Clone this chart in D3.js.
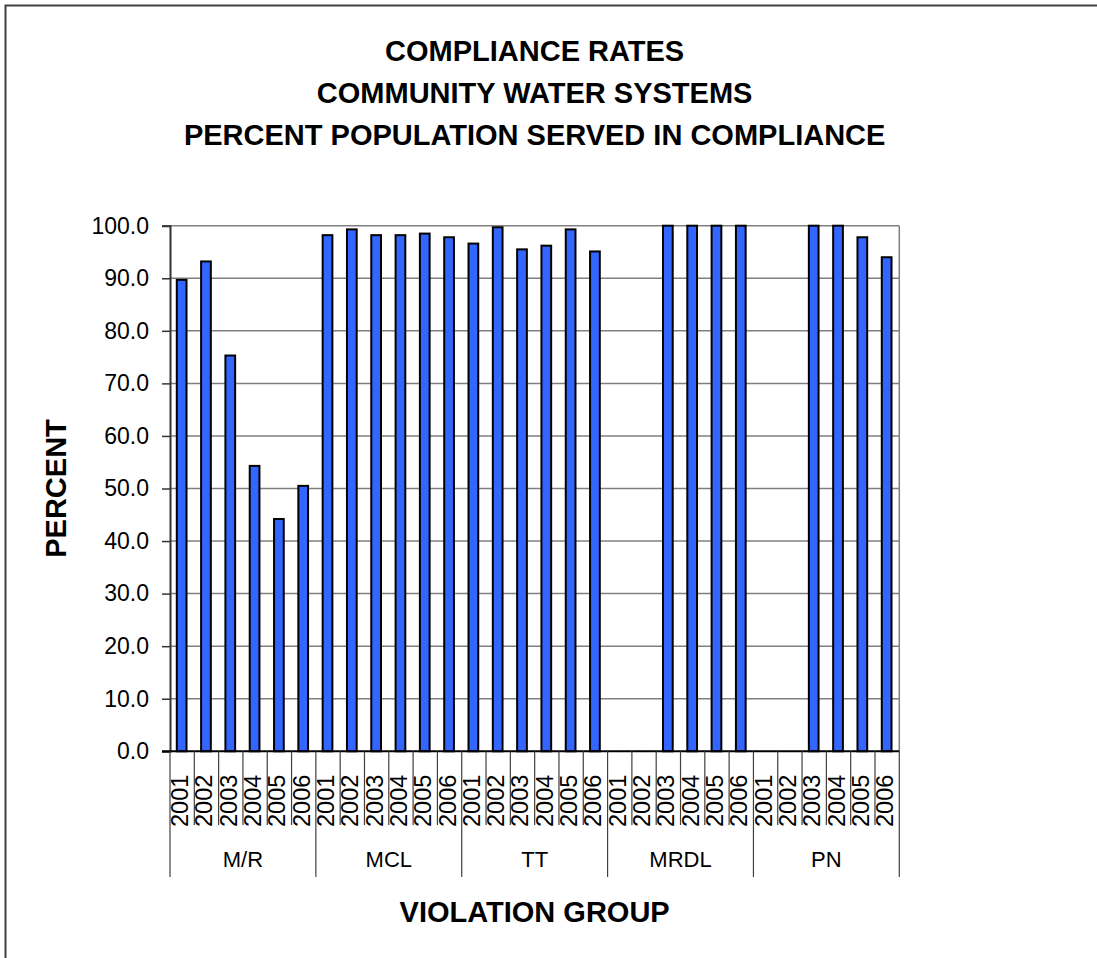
<!DOCTYPE html>
<html>
<head>
<meta charset="utf-8">
<script src="https://cdn.jsdelivr.net/npm/d3@7"></script>
<style>
  html, body { margin: 0; padding: 0; background: #fff; }
  svg { display: block; }
  text { font-family: "Liberation Sans", Arial, sans-serif; fill: #000; }
</style>
</head>
<body>
<svg id="chart" width="1097" height="958"></svg>
<script>
// ---- data ----
const titleLines = ["COMPLIANCE RATES", "COMMUNITY WATER SYSTEMS", "PERCENT POPULATION SERVED IN COMPLIANCE"];
const groups = ["M/R", "MCL", "TT", "MRDL", "PN"];
const years = ["2001", "2002", "2003", "2004", "2005", "2006"];
const mrValues   = [89.7, 93.2, 75.3, 54.3, 44.2, 50.5];
const mclValues  = [98.2, 99.3, 98.2, 98.2, 98.5, 97.8];
const ttValues   = [96.6, 99.7, 95.5, 96.2, 99.3, 95.1];
const mrdlValues = [null, null, 100.0, 100.0, 100.0, 100.0];
const pnValues   = [null, null, 100.0, 100.0, 97.8, 94.0];
const yTicks = [0, 10, 20, 30, 40, 50, 60, 70, 80, 90, 100];
const yTitle = "PERCENT";
const xTitle = "VIOLATION GROUP";

const seriesByGroup = [mrValues, mclValues, ttValues, mrdlValues, pnValues];
const rows = [];
groups.forEach((g, gi) => years.forEach((yr, yi) => rows.push({ key: g + "|" + yr, group: g, year: yr, value: seriesByGroup[gi][yi] })));

// ---- layout ----
const svg = d3.select("#chart");
const plot = { left: 170, right: 899.3, top: 225.7, bottom: 751.3 };

svg.append("rect").attr("x", 5.5).attr("y", 5.5).attr("width", 1300).attr("height", 1300)
  .attr("fill", "#fff").attr("stroke", "#404040").attr("stroke-width", 2);

const x = d3.scaleBand().domain(rows.map(d => d.key)).range([plot.left, plot.right]).padding(0);
const y = d3.scaleLinear().domain([0, 100]).range([plot.bottom, plot.top]);

// gridlines
svg.append("g").selectAll("line").data(yTicks.filter(t => t > 0)).join("line")
  .attr("x1", plot.left).attr("x2", plot.right)
  .attr("y1", d => y(d)).attr("y2", d => y(d))
  .attr("stroke", "#808080").attr("stroke-width", 1.5);
// right border of plot
svg.append("line").attr("x1", plot.right).attr("x2", plot.right).attr("y1", plot.top).attr("y2", plot.bottom)
  .attr("stroke", "#808080").attr("stroke-width", 1.5);

// bars
const bw = x.bandwidth() * 0.4;
svg.append("g").selectAll("rect").data(rows.filter(d => d.value != null)).join("rect")
  .attr("x", d => x(d.key) + (x.bandwidth() - bw) / 2 - 0.5)
  .attr("y", d => y(d.value))
  .attr("width", bw)
  .attr("height", d => y(0) - y(d.value))
  .attr("fill", "#3366FF").attr("stroke", "#000").attr("stroke-width", 2);

// y axis
const yAxis = svg.append("g").attr("transform", `translate(${plot.left},0)`)
  .call(d3.axisLeft(y).tickValues(yTicks).tickFormat(d3.format(".1f")).tickSize(8).tickPadding(13));
yAxis.select(".domain").attr("stroke", "#333").attr("stroke-width", 2);
yAxis.selectAll(".tick line").attr("stroke", "#333").attr("stroke-width", 1.5);
yAxis.selectAll(".tick text").attr("font-size", 23).attr("font-family", "Liberation Sans, Arial, sans-serif").attr("fill", "#000");

// x axis base line
svg.append("line").attr("x1", plot.left - 8).attr("x2", plot.right).attr("y1", plot.bottom).attr("y2", plot.bottom)
  .attr("stroke", "#000").attr("stroke-width", 2);

// x axis: year separators and labels
const sepYearBottom = 825, sepGroupBottom = 877;
const sepKeys = rows.map((d, i) => ({ xPos: x(d.key), isGroup: i % years.length === 0 }));
sepKeys.push({ xPos: plot.right, isGroup: true });
svg.append("g").selectAll("line").data(sepKeys).join("line")
  .attr("x1", d => d.xPos).attr("x2", d => d.xPos)
  .attr("y1", plot.bottom).attr("y2", d => d.isGroup ? sepGroupBottom : sepYearBottom)
  .attr("stroke", "#404040").attr("stroke-width", 1.2);

svg.append("g").selectAll("text").data(rows).join("text")
  .attr("transform", d => `translate(${x(d.key) + x.bandwidth() / 2 + 6},${827}) rotate(-90)`)
  .attr("text-anchor", "start")
  .attr("font-size", 23.5)
  .text(d => d.year);

// group labels
const groupScale = d3.scaleBand().domain(groups).range([plot.left, plot.right]);
svg.append("g").selectAll("text").data(groups).join("text")
  .attr("x", d => groupScale(d) + groupScale.bandwidth() / 2)
  .attr("y", 867)
  .attr("text-anchor", "middle")
  .attr("font-size", 22)
  .text(d => d);

// titles
const cx = (plot.left + plot.right) / 2;
svg.append("g").selectAll("text").data(titleLines).join("text")
  .attr("x", cx).attr("y", (d, i) => 61 + i * 42)
  .attr("text-anchor", "middle").attr("font-size", 29).attr("font-weight", "bold")
  .text(d => d);

svg.append("text").attr("x", cx).attr("y", 922).attr("text-anchor", "middle")
  .attr("font-size", 29).attr("font-weight", "bold").text(xTitle);

svg.append("text").attr("transform", `translate(66,${(plot.top + plot.bottom) / 2}) rotate(-90)`)
  .attr("text-anchor", "middle").attr("font-size", 29).attr("font-weight", "bold").text(yTitle);
</script>
</body>
</html>
